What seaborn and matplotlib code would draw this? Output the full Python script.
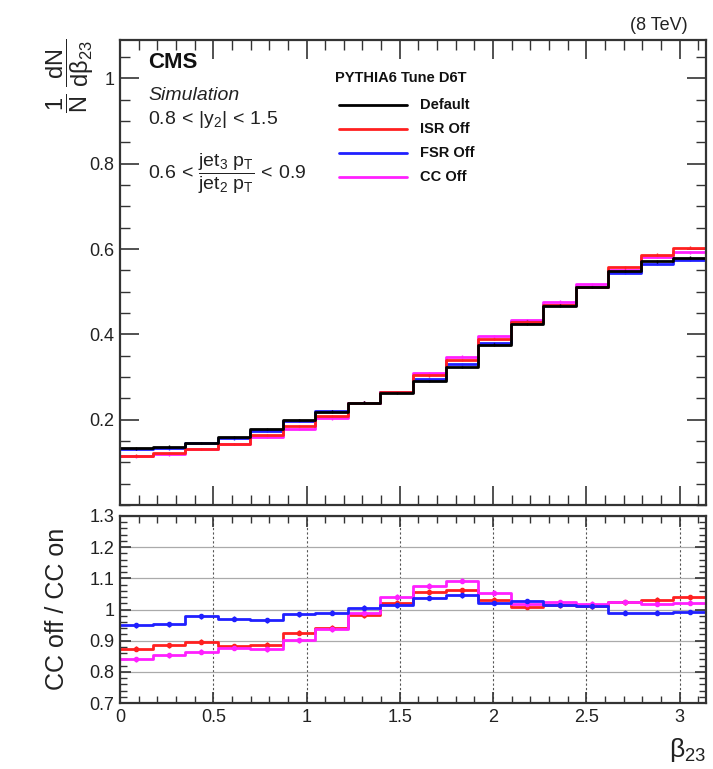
import numpy as np
import pandas as pd
import matplotlib
matplotlib.use("Agg")
import matplotlib.pyplot as plt
from matplotlib.ticker import MultipleLocator, FormatStrFormatter
from matplotlib.lines import Line2D
import seaborn as sns

# beta_23 binning: 18 bins from 0 to pi
n_bins = 18
bin_edges = np.linspace(0.0, np.pi, n_bins + 1)
bin_centers = 0.5 * (bin_edges[:-1] + bin_edges[1:])
bin_list = bin_edges.tolist()

# normalised distributions 1/N dN/dbeta23
default = [0.133, 0.137, 0.145, 0.159, 0.178, 0.199, 0.219, 0.240, 0.263,
           0.291, 0.323, 0.376, 0.424, 0.467, 0.511, 0.548, 0.571, 0.580]
isr_off = [0.116, 0.122, 0.131, 0.143, 0.164, 0.185, 0.209, 0.240, 0.265,
           0.304, 0.340, 0.389, 0.430, 0.469, 0.511, 0.557, 0.587, 0.603]
fsr_off = [0.131, 0.133, 0.145, 0.156, 0.174, 0.198, 0.220, 0.240, 0.265,
           0.295, 0.331, 0.379, 0.430, 0.469, 0.511, 0.544, 0.566, 0.575]
cc_off = [0.114, 0.119, 0.131, 0.143, 0.159, 0.178, 0.203, 0.240, 0.265,
          0.309, 0.348, 0.395, 0.433, 0.477, 0.517, 0.552, 0.581, 0.592]

# ratios to the default tune
ratio_isr = [0.874, 0.885, 0.896, 0.882, 0.887, 0.925, 0.941, 0.981, 1.021,
             1.057, 1.061, 1.032, 1.009, 1.013, 1.011, 1.024, 1.032, 1.040]
ratio_fsr = [0.949, 0.952, 0.979, 0.971, 0.966, 0.984, 0.989, 1.005, 1.013,
             1.038, 1.045, 1.021, 1.027, 1.016, 1.011, 0.989, 0.989, 0.992]
ratio_cc = [0.841, 0.853, 0.864, 0.877, 0.873, 0.901, 0.936, 0.989, 1.041,
            1.077, 1.093, 1.054, 1.019, 1.024, 1.019, 1.024, 1.019, 1.021]

series_names = ["Default", "ISR Off", "FSR Off", "CC Off"]
colors = {"Default": "#000000", "ISR Off": "#ff2020",
          "FSR Off": "#2020ff", "CC Off": "#ff20ff"}

dist = pd.DataFrame({
    "beta": np.tile(bin_centers, 4),
    "value": default + isr_off + fsr_off + cc_off,
    "series": np.repeat(series_names, n_bins),
})
ratio = pd.DataFrame({
    "beta": np.tile(bin_centers, 3),
    "value": ratio_isr + ratio_fsr + ratio_cc,
    "series": np.repeat(["ISR Off", "FSR Off", "CC Off"], n_bins),
})

sns.set_theme(style="ticks")
plt.rcParams["font.family"] = ["Liberation Sans", "DejaVu Sans"]
plt.rcParams["mathtext.fontset"] = "custom"
plt.rcParams["mathtext.rm"] = "Liberation Sans"
plt.rcParams["mathtext.it"] = "Liberation Sans:italic"
plt.rcParams["mathtext.bf"] = "Liberation Sans:bold"
plt.rcParams["mathtext.default"] = "regular"

fig = plt.figure(figsize=(7.13, 7.69), dpi=100)
ax_top = fig.add_axes([0.1683, 0.3433, 0.8219, 0.6047])
ax_bot = fig.add_axes([0.1683, 0.0858, 0.8219, 0.2432])

frame_color = "#333333"
lw = 2.0

# ---- upper panel: distributions ----
for name in ["CC Off", "FSR Off", "ISR Off", "Default"]:
    sub = dist[dist["series"] == name]
    sns.histplot(data=sub, x="beta", weights="value", bins=bin_list,
                 element="step", fill=False, color=colors[name],
                 linewidth=lw, ax=ax_top, legend=False)
    ax_top.errorbar(sub["beta"], sub["value"], yerr=0.003, fmt="none",
                    ecolor=colors[name], elinewidth=1.0, capsize=0)

ax_top.set_xlim(0, np.pi)
ax_top.set_ylim(0.0, 1.09)
ax_top.set_xlabel("")
ax_top.set_ylabel("")
ax_top.xaxis.set_major_locator(MultipleLocator(0.5))
ax_top.xaxis.set_minor_locator(MultipleLocator(0.1))
ax_top.yaxis.set_major_locator(MultipleLocator(0.2))
ax_top.yaxis.set_minor_locator(MultipleLocator(0.05))
ax_top.yaxis.set_major_formatter(FormatStrFormatter("%g"))
ax_top.tick_params(axis="x", labelbottom=False)
ax_top.set_yticks([0.2, 0.4, 0.6, 0.8, 1.0])

# ---- lower panel: ratios ----
ax_bot.grid(axis="y", color="#aaaaaa", linestyle="-", linewidth=0.9)
ax_bot.grid(axis="x", color="#555555", linestyle=(0, (2, 2)), linewidth=0.8)
for name in ["ISR Off", "CC Off", "FSR Off"]:
    sub = ratio[ratio["series"] == name]
    sns.histplot(data=sub, x="beta", weights="value", bins=bin_list,
                 element="step", fill=False, color=colors[name],
                 linewidth=lw, ax=ax_bot, legend=False)
    ax_bot.errorbar(sub["beta"], sub["value"], yerr=0.008, fmt="o", ms=3,
                    color=colors[name], elinewidth=1.0, capsize=0)

ax_bot.set_xlim(0, np.pi)
ax_bot.set_ylim(0.7, 1.3)
ax_bot.set_xlabel("")
ax_bot.set_ylabel("")
ax_bot.xaxis.set_major_locator(MultipleLocator(0.5))
ax_bot.xaxis.set_minor_locator(MultipleLocator(0.1))
ax_bot.yaxis.set_major_locator(MultipleLocator(0.1))
ax_bot.yaxis.set_minor_locator(MultipleLocator(0.02))
ax_bot.xaxis.set_major_formatter(FormatStrFormatter("%g"))
ax_bot.yaxis.set_major_formatter(FormatStrFormatter("%g"))
ax_bot.set_axisbelow(True)

for ax in (ax_top, ax_bot):
    for sp in ax.spines.values():
        sp.set_visible(True)
        sp.set_color(frame_color)
        sp.set_linewidth(1.6)
    ax.tick_params(which="both", direction="in", top=True, right=True,
                   color=frame_color, labelsize=13, labelcolor="#222222")
    ax.tick_params(which="major", length=14, width=1.2, pad=4)
    ax.tick_params(which="minor", length=7, width=1.0)
ax_bot.tick_params(which="major", length=8)
ax_bot.tick_params(which="minor", length=5)

# ---- annotations ----
def px(x, y):
    return x / 713.0, 1.0 - y / 769.0

fig.text(*px(688, 25), "(8 TeV)", ha="right", va="center", fontsize=13,
         color="#222222")
fig.text(*px(148, 63), "CMS", ha="left", va="center", fontsize=16,
         fontweight="bold", color="#111111")
fig.text(*px(148, 95), "Simulation", ha="left", va="center", fontsize=14,
         style="italic", color="#222222")
fig.text(*px(148, 120), r"$0.8\,<\,|y_{2}|\,<\,1.5$", ha="left",
         va="center", fontsize=14, color="#222222")
fig.text(*px(148, 174),
         r"$0.6\,<\,\dfrac{jet_{3}\ p_{T}}{jet_{2}\ p_{T}}\,<\,0.9$",
         ha="left", va="center", fontsize=14, color="#222222")

# legend
fig.text(*px(335, 78), "PYTHIA6 Tune D6T", ha="left", va="center",
         fontsize=10.5, fontweight="bold", color="#111111")
leg_rows = [105, 129, 153, 177]
for name, yrow in zip(series_names, leg_rows):
    x0, y0 = px(339, yrow)
    x1, _ = px(407, yrow)
    fig.add_artist(Line2D([x0, x1], [y0, y0], color=colors[name], lw=lw,
                          transform=fig.transFigure))
    fig.text(*px(420, yrow), name, ha="left", va="center", fontsize=10.5,
             fontweight="bold", color="#111111")

# axis titles
fig.text(*px(70, 38), r"$\dfrac{1}{N}\ \dfrac{dN}{d\beta_{23}}$", rotation=90,
         ha="center", va="top", fontsize=17, color="#222222")
fig.text(*px(57, 609), "CC off / CC on", rotation=90, ha="center",
         va="center", fontsize=18, color="#222222")
fig.text(*px(706, 764), r"$\beta_{23}$", ha="right", va="bottom",
         fontsize=19, color="#222222")

fig.savefig("out.png", dpi=100)
